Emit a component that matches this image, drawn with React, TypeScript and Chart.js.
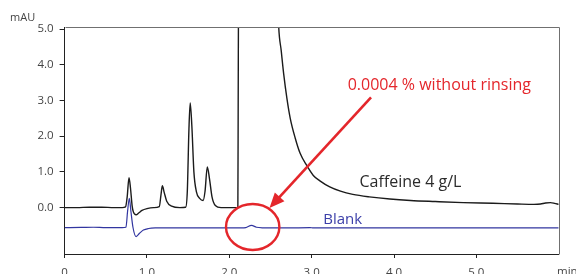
import { useEffect, useRef } from 'react';
import { Chart, registerables } from 'chart.js';

Chart.register(...registerables);

// ---- Data ----
const caffeineTime = [
  0.0, 0.15, 0.3, 0.45, 0.6, 0.7, 0.74, 0.76, 0.782, 0.8, 0.82, 0.835, 0.868, 0.9, 0.94, 1.0, 1.08,
  1.15, 1.17, 1.187, 1.21, 1.24, 1.3, 1.4, 1.47, 1.49, 1.51, 1.525, 1.545, 1.57, 1.6, 1.64, 1.682,
  1.705, 1.733, 1.76, 1.79, 1.83, 1.9, 2.0, 2.104, 2.108, 2.112, 2.35, 2.55, 2.6, 2.63, 2.66, 2.7,
  2.74, 2.8, 2.86, 2.94, 3.02, 3.1, 3.22, 3.35, 3.5, 3.7, 3.95, 4.2, 4.5, 4.84, 5.2, 5.5, 5.7, 5.78,
  5.84, 5.9, 5.95, 6.0,
];
const caffeineValue = [
  0.0, 0.0, 0.01, 0.01, 0.0, 0.0, 0.02, 0.3, 0.84, 0.55, 0.05, -0.12, -0.2, -0.15, -0.08, -0.03, 0.0,
  0.03, 0.35, 0.61, 0.42, 0.18, 0.04, 0.0, 0.01, 0.45, 2.2, 2.93, 2.3, 1.0, 0.45, 0.26, 0.2,
  0.45, 1.14, 0.8, 0.3, 0.06, 0.0, 0.0, 0.0, 3.0, 6.0, 40.0, 8.5, 5.06, 4.4, 3.75, 3.05,
  2.5, 1.95, 1.52, 1.18, 0.9, 0.75, 0.58, 0.46, 0.37, 0.3, 0.24, 0.2, 0.17, 0.14, 0.12, 0.1, 0.09, 0.1,
  0.13, 0.14, 0.12, 0.09,
];
const blankTime = [
  0.0, 0.2, 0.35, 0.5, 0.7, 0.745, 0.765, 0.786, 0.805, 0.83, 0.868, 0.91, 0.957, 1.02, 1.1, 1.4,
  1.8, 2.0, 2.15, 2.2, 2.27, 2.33, 2.4, 2.7, 2.98, 3.02, 4.0, 5.0, 6.0,
];
const blankValue = [
  -0.56, -0.555, -0.55, -0.56, -0.56, -0.55, -0.1, 0.26, -0.1, -0.55, -0.81, -0.72, -0.63, -0.585,
  -0.57, -0.565, -0.565, -0.57, -0.57, -0.56, -0.5, -0.55, -0.565, -0.57, -0.56, -0.57, -0.57, -0.57,
  -0.57,
];
const xTickValues = [0, 1, 2, 3, 4, 5];
const xTickLabels = ['0', '1.0', '2.0', '3.0', '4.0', '5.0'];
const yTickValues = [0, 1, 2, 3, 4, 5];
const yTickLabels = ['0.0', '1.0', '2.0', '3.0', '4.0', '5.0'];
const seriesNames = ['Caffeine 4 g/L', 'Blank'];
const annotationText = '0.0004 % without rinsing';
const yUnit = 'mAU';
const xUnit = 'min';

// ---- Annotation anchors (data units) ----
const circleCenter = { x: 2.284, y: -0.543 };
const circleRadius = { x: 0.324, y: 0.644 };
const arrowFrom = { x: 3.721, y: 3.088 };
const arrowTo = { x: 2.488, y: -0.011 };
const annotationAnchor = { x: 3.438, y: 3.418 };
const caffeineLabelAnchor = { x: 3.581, y: 0.717 };
const blankLabelAnchor = { x: 3.141, y: -0.342 };

const FONT = '"Open Sans", "Noto Sans", sans-serif';
const RED = '#e4262b';
const BLACK = '#1b1b1b';
const BLUE = '#3236a0';

const decorPlugin = {
  id: 'decor',
  afterDraw(chart: any) {
    const { ctx, chartArea } = chart;
    const xs = chart.scales.x;
    const ys = chart.scales.y;
    const px = (v: number) => xs.getPixelForValue(v);
    const py = (v: number) => ys.getPixelForValue(v);
    ctx.save();
    // top & right frame
    ctx.strokeStyle = '#707070';
    ctx.lineWidth = 1;
    ctx.beginPath();
    ctx.moveTo(Math.round(chartArea.left) + 0.5, Math.round(chartArea.top) + 0.5);
    ctx.lineTo(Math.round(chartArea.right) + 0.5, Math.round(chartArea.top) + 0.5);
    ctx.lineTo(Math.round(chartArea.right) + 0.5, Math.round(chartArea.bottom) + 0.5);
    ctx.stroke();

    // units
    ctx.fillStyle = '#444';
    ctx.font = `11px ${FONT}`;
    ctx.textAlign = 'left';
    ctx.textBaseline = 'middle';
    ctx.fillText(yUnit, 10, 17.5);
    ctx.textBaseline = 'top';
    ctx.font = `11.5px ${FONT}`;
    ctx.fillText(xUnit, 557, 266);

    // series labels
    ctx.textBaseline = 'middle';
    ctx.font = `16px ${FONT}`;
    ctx.fillStyle = '#2b2b2b';
    ctx.fillText(seriesNames[0], px(caffeineLabelAnchor.x), py(caffeineLabelAnchor.y));
    ctx.font = `15px ${FONT}`;
    ctx.fillStyle = '#3a3ea8';
    ctx.fillText(seriesNames[1], px(blankLabelAnchor.x), py(blankLabelAnchor.y));

    // annotation text
    ctx.font = `16px ${FONT}`;
    ctx.fillStyle = RED;
    ctx.fillText(annotationText, px(annotationAnchor.x), py(annotationAnchor.y));

    // ellipse
    ctx.strokeStyle = RED;
    ctx.lineWidth = 2.4;
    ctx.beginPath();
    const cx = px(circleCenter.x);
    const cy = py(circleCenter.y);
    const rx = px(circleCenter.x + circleRadius.x) - cx;
    const ry = cy - py(circleCenter.y + circleRadius.y);
    ctx.ellipse(cx, cy, rx, ry, 0, 0, Math.PI * 2);
    ctx.stroke();

    // arrow
    const x1 = px(arrowFrom.x);
    const y1 = py(arrowFrom.y);
    const x2 = px(arrowTo.x);
    const y2 = py(arrowTo.y);
    const dx = x1 - x2;
    const dy = y1 - y2;
    const len = Math.hypot(dx, dy);
    const ux = dx / len;
    const uy = dy / len;
    const headLen = 15;
    const headHalf = 6.5;
    ctx.lineWidth = 2.6;
    ctx.beginPath();
    ctx.moveTo(x1, y1);
    ctx.lineTo(x2 + ux * (headLen - 2), y2 + uy * (headLen - 2));
    ctx.stroke();
    ctx.fillStyle = RED;
    ctx.beginPath();
    ctx.moveTo(x2, y2);
    ctx.lineTo(x2 + ux * headLen - uy * headHalf, y2 + uy * headLen + ux * headHalf);
    ctx.lineTo(x2 + ux * headLen + uy * headHalf, y2 + uy * headLen - ux * headHalf);
    ctx.closePath();
    ctx.fill();
    ctx.restore();
  },
};

export default function App() {
  const ref = useRef<HTMLCanvasElement | null>(null);
  useEffect(() => {
    document.body.style.margin = '0';
    const canvas = ref.current;
    if (!canvas) return;
    const chart = new Chart(canvas, {
      type: 'line',
      data: {
        datasets: [
          {
            label: seriesNames[1],
            data: blankTime.map((t, i) => ({ x: t, y: blankValue[i] })),
            borderColor: BLUE,
            borderWidth: 1.2,
            pointRadius: 0,
            cubicInterpolationMode: 'monotone',
            fill: false,
          },
          {
            label: seriesNames[0],
            data: caffeineTime.map((t, i) => ({ x: t, y: caffeineValue[i] })),
            borderColor: BLACK,
            borderWidth: 1.4,
            pointRadius: 0,
            cubicInterpolationMode: 'monotone',
            fill: false,
          },
        ],
      },
      options: {
        animation: false,
        responsive: false,
        maintainAspectRatio: false,
        layout: { padding: { left: 0, top: 27, right: 17.3, bottom: 0 } },
        plugins: { legend: { display: false }, tooltip: { enabled: false } },
        scales: {
          x: {
            type: 'linear',
            min: 0,
            max: 6,
            afterBuildTicks: (s: any) => {
              s.ticks = xTickValues.map((v) => ({ value: v }));
            },
            afterFit: (s: any) => {
              s.height = 20;
            },
            grid: { drawOnChartArea: false, drawTicks: true, tickLength: 4, color: '#222' },
            border: { display: true, color: '#222', width: 1 },
            ticks: {
              autoSkip: false,
              maxRotation: 0,
              padding: 8,
              color: '#444',
              font: { family: FONT, size: 11.5 },
              callback: (v: any) => xTickLabels[xTickValues.indexOf(Number(v))] ?? '',
            },
          },
          y: {
            type: 'linear',
            min: -1.299,
            max: 5.056,
            afterBuildTicks: (s: any) => {
              s.ticks = yTickValues.map((v) => ({ value: v }));
            },
            afterFit: (s: any) => {
              s.width = 64.6;
            },
            grid: { drawOnChartArea: false, drawTicks: true, tickLength: 5, color: '#222' },
            border: { display: true, color: '#222', width: 1 },
            ticks: {
              autoSkip: false,
              padding: 6,
              color: '#444',
              font: { family: FONT, size: 11.5 },
              callback: (v: any) => yTickLabels[yTickValues.indexOf(Number(v))] ?? '',
            },
          },
        },
      } as any,
      plugins: [decorPlugin],
    });
    return () => chart.destroy();
  }, []);
  return (
    <div style={{ width: 576, height: 274, background: '#fff' }}>
      <canvas ref={ref} width={576} height={274} style={{ display: 'block' }} />
    </div>
  );
}
